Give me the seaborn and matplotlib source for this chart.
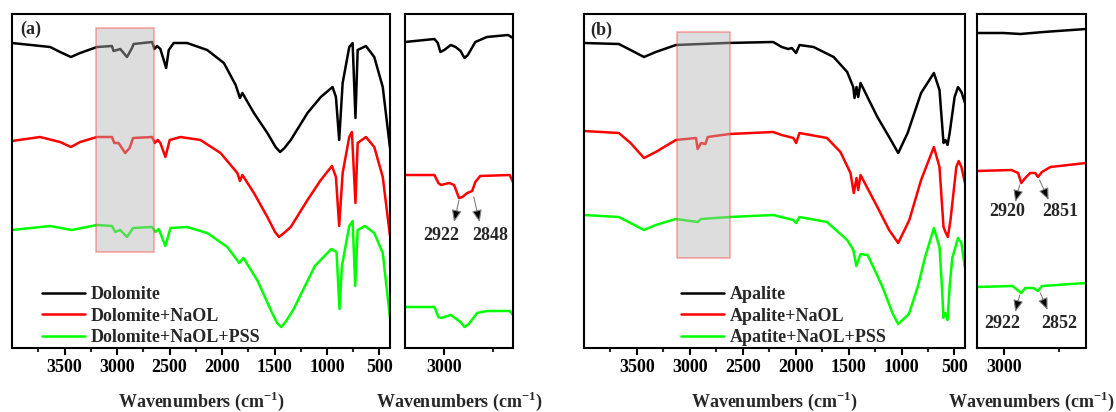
import matplotlib
matplotlib.use("Agg")
import matplotlib.pyplot as plt
import seaborn as sns
from matplotlib.ticker import FixedLocator
from matplotlib.patches import Rectangle

# ---------------- data (wavenumber cm-1, transmittance a.u. with stacking offset) ----------------
dol_wn = [4000, 3637, 3542, 3439, 3351, 3191, 3048, 3033, 3000, 2969, 2905, 2857, 2842, 2666, 2644, 2618,
          2587, 2532, 2507, 2460, 2332, 2141, 1982, 1870, 1829, 1806, 1696, 1568, 1490, 1447, 1405, 1345,
          1186, 1059, 947, 915, 884, 851, 788, 756, 729, 708, 629, 550, 469, 400]
dol_T = [305, 301, 296, 291, 295, 301, 302, 297, 298, 299, 291, 300, 304, 306, 299, 302,
         299, 280, 298, 305, 305, 298, 285, 263, 250, 255, 235, 215, 201, 196, 200, 208,
         235, 251, 261, 251, 208, 265, 301, 305, 230, 298, 302, 291, 261, 200]

dol_naol_wn = [4000, 3733, 3542, 3439, 3351, 3191, 3048, 3026, 2985, 2922, 2880, 2847, 2666, 2641, 2612,
               2587, 2539, 2498, 2396, 2205, 2014, 1854, 1829, 1806, 1696, 1568, 1495, 1457, 1410, 1345,
               1186, 1059, 953, 915, 884, 851, 788, 763, 729, 708, 629, 550, 469, 400]
dol_naol_T = [207, 211, 206, 201, 206, 211, 211, 205, 205, 195, 200, 210, 211, 205, 208,
              205, 191, 208, 211, 208, 195, 175, 167, 173, 155, 131, 116, 111, 115, 121,
              148, 168, 182, 171, 122, 175, 211, 216, 145, 205, 211, 201, 171, 112]

dol_pss_wn = [4000, 3637, 3430, 3191, 3048, 3016, 2969, 2905, 2847, 2666, 2634, 2603, 2539, 2491, 2332,
              2141, 1950, 1864, 1836, 1795, 1660, 1523, 1475, 1437, 1395, 1317, 1116, 959, 909, 881,
              858, 788, 756, 731, 708, 638, 550, 469, 400]
dol_pss_T = [118, 122, 118, 123, 122, 116, 118, 111, 120, 121, 116, 119, 102, 120, 121,
             115, 101, 89, 85, 90, 67, 35, 25, 21, 26, 39, 82, 99, 96, 39,
             82, 122, 127, 62, 118, 122, 115, 95, 30]

# zoomed C-H region, dolomite
dol_zoom_wn = [3200, 3050, 3033, 3020, 3000, 2967, 2942, 2917, 2897, 2880, 2842, 2783, 2675, 2650]
dol_zoom_T = [306, 309, 305, 296, 298, 303, 301, 297, 290, 293, 306, 311, 313, 310]
dol_naol_zoom_wn = [3200, 3050, 3030, 3017, 2975, 2950, 2925, 2908, 2883, 2858, 2842, 2817, 2667, 2650]
dol_naol_zoom_T = [173, 173, 165, 163, 165, 163, 150, 151, 155, 157, 166, 172, 173, 166]
dol_pss_zoom_wn = [3200, 3050, 3030, 3017, 2967, 2917, 2897, 2875, 2833, 2783, 2667, 2650]
dol_pss_zoom_T = [41, 41, 31, 30, 33, 26, 21, 24, 35, 37, 37, 33]

apa_wn = [4000, 3671, 3560, 3433, 3322, 3132, 2656, 2212, 2132, 2069, 2037, 1996, 1964, 1831, 1641,
          1513, 1456, 1444, 1425, 1409, 1387, 1228, 1117, 1031, 942, 815, 694, 641, 603, 585,
          565, 545, 498, 466, 434, 400]
apa_T = [305, 304, 298, 291, 296, 303, 305, 306, 301, 299, 300, 295, 303, 301, 291,
         276, 261, 250, 261, 251, 265, 231, 211, 195, 215, 255, 275, 258, 205, 208,
         203, 215, 251, 261, 256, 245]

apa_naol_wn = [4000, 3671, 3560, 3433, 3322, 3132, 2942, 2926, 2894, 2853, 2831, 2624, 2212, 2132, 2022,
               1996, 1964, 1704, 1577, 1482, 1451, 1425, 1409, 1387, 1228, 1117, 1031, 926, 815, 694,
               641, 603, 585, 562, 537, 482, 460, 434, 400]
apa_naol_T = [217, 215, 205, 190, 196, 208, 210, 199, 205, 204, 211, 214, 216, 213, 210,
              205, 215, 210, 196, 175, 155, 170, 158, 173, 141, 118, 105, 128, 168, 201,
              181, 121, 116, 111, 128, 181, 187, 181, 165]

apa_pss_wn = [4000, 3671, 3560, 3433, 3322, 3132, 2926, 2894, 2624, 2212, 2022, 1996, 1964, 1704, 1513,
              1455, 1427, 1387, 1320, 1183, 1082, 1031, 930, 844, 777, 694, 641, 620, 603, 585,
              565, 545, 520, 466, 434, 400]
apa_pss_T = [133, 131, 125, 118, 123, 129, 126, 129, 131, 133, 128, 125, 131, 126, 108,
             98, 82, 94, 93, 62, 34, 24, 34, 62, 91, 120, 101, 65, 30, 35,
             28, 62, 90, 110, 105, 80]

apa_zoom_wn = [3120, 3000, 2925, 2821, 2630]
apa_zoom_T = [315, 315, 314, 316, 319]
apa_naol_zoom_wn = [3120, 2965, 2935, 2921, 2903, 2881, 2858, 2846, 2828, 2790, 2630]
apa_naol_zoom_T = [177, 178, 175, 165, 170, 175, 175, 171, 176, 181, 185]
apa_pss_zoom_wn = [3120, 2960, 2921, 2903, 2866, 2846, 2828, 2630]
apa_pss_zoom_T = [61, 62, 55, 60, 60, 57, 62, 65]

labels_a = ["Dolomite", "Dolomite+NaOL", "Dolomite+NaOL+PSS"]
labels_b = ["Apalite", "Apalite+NaOL", "Apatite+NaOL+PSS"]
colors = ["#000000", "#ff0000", "#00ff00"]

# ---------------- style ----------------
sns.set_theme(style="ticks")
plt.rcParams["font.family"] = ["Liberation Serif", "DejaVu Serif"]
plt.rcParams["font.weight"] = "bold"
plt.rcParams["mathtext.fontset"] = "custom"
plt.rcParams["mathtext.rm"] = "Liberation Serif:bold"
plt.rcParams["mathtext.bf"] = "Liberation Serif:bold"
plt.rcParams["axes.linewidth"] = 1.5
plt.rcParams["axes.edgecolor"] = "black"

W, H = 1116, 412
fig = plt.figure(figsize=(W / 100, H / 100), dpi=100)
fig.patch.set_facecolor("white")


def frac(l, r):
    return [l / W, 64 / H, (r - l) / W, 334 / H]


axA = fig.add_axes(frac(12, 390))
axAi = fig.add_axes(frac(405, 513))
axB = fig.add_axes(frac(584, 965))
axBi = fig.add_axes(frac(977, 1086))

XLAB = r"Wavenumbers (cm$^{\mathbf{-1}}$)"


def style(ax, xlim, major, minor):
    ax.set_xlim(*xlim)
    ax.set_ylim(0, 334)
    ax.xaxis.set_major_locator(FixedLocator(major))
    ax.xaxis.set_minor_locator(FixedLocator(minor))
    ax.set_xticklabels([str(m) for m in major])
    ax.tick_params(axis="x", which="major", direction="out", length=5, width=1.5,
                   labelsize=13, pad=3, colors="black")
    ax.tick_params(axis="x", which="minor", direction="out", length=3, width=1.5)
    ax.set_yticks([])
    ax.set_ylabel("")
    for s in ax.spines.values():
        s.set_visible(True)
        s.set_linewidth(1.5)
        s.set_color("black")
    ax.set_xlabel(XLAB, fontsize=13, fontweight="bold", labelpad=10)
    ax.set_facecolor("white")


def draw(ax, wn, T, color):
    sns.lineplot(x=wn, y=T, ax=ax, color=color, linewidth=1.8, sort=False,
                 estimator=None, legend=False)


main_major = [3500, 3000, 2500, 2000, 1500, 1000, 500]
main_minor = [3750, 3250, 2750, 2250, 1750, 1250, 750]

# panel (a)
for wn, T, c in zip([dol_wn, dol_naol_wn, dol_pss_wn], [dol_T, dol_naol_T, dol_pss_T], colors):
    draw(axA, wn, T, c)
style(axA, (4000, 400), main_major, main_minor)
axA.add_patch(Rectangle((3200, 96), -550, 224, facecolor="#b4b4b4", edgecolor="#ff4040",
                        alpha=0.45, lw=1.2, zorder=5))
axA.text(0.021, 0.955, "(a)", transform=axA.transAxes, fontsize=13, fontweight="bold",
         ha="left", va="center")
axA.legend(axA.lines[:3], labels_a, loc="lower left", bbox_to_anchor=(0.075, 0.0),
           frameon=False, fontsize=13, handlelength=2.4, handletextpad=0.3,
           labelspacing=0.25, borderpad=0.1, borderaxespad=0)

for wn, T, c in zip([dol_zoom_wn, dol_naol_zoom_wn, dol_pss_zoom_wn],
                    [dol_zoom_T, dol_naol_zoom_T, dol_pss_zoom_T], colors):
    draw(axAi, wn, T, c)
style(axAi, (3200, 2650), [3000], [2750])

# panel (b)
for wn, T, c in zip([apa_wn, apa_naol_wn, apa_pss_wn], [apa_T, apa_naol_T, apa_pss_T], colors):
    draw(axB, wn, T, c)
style(axB, (4000, 400), main_major, main_minor)
axB.add_patch(Rectangle((3125, 90), -500, 226, facecolor="#b4b4b4", edgecolor="#ff4040",
                        alpha=0.45, lw=1.2, zorder=5))
axB.text(0.016, 0.952, "(b)", transform=axB.transAxes, fontsize=13, fontweight="bold",
         ha="left", va="center")
axB.legend(axB.lines[:3], labels_b, loc="lower left", bbox_to_anchor=(0.25, 0.0),
           frameon=False, fontsize=13, handlelength=2.4, handletextpad=0.3,
           labelspacing=0.25, borderpad=0.1, borderaxespad=0)

for wn, T, c in zip([apa_zoom_wn, apa_naol_zoom_wn, apa_pss_zoom_wn],
                    [apa_zoom_T, apa_naol_zoom_T, apa_pss_zoom_T], colors):
    draw(axBi, wn, T, c)
style(axBi, (3120, 2630), [3000], [2750])

# annotations
arrow = dict(arrowstyle="-|>,head_length=0.6,head_width=0.25", ec="#808080", fc="black",
             lw=0.8, shrinkA=0, shrinkB=0)


def mark(ax, text, tail, head, pos):
    ax.annotate("", xy=head, xytext=tail, arrowprops=arrow)
    ax.text(pos[0], pos[1], text, ha="center", va="center", fontsize=13, fontweight="bold")


mark(axAi, "2922", (2925, 148), (2950, 126), (3017, 113))
mark(axAi, "2848", (2850, 151), (2820, 126), (2767, 113))
mark(axBi, "2920", (2928, 163), (2948, 146), (2985, 136))
mark(axBi, "2851", (2839, 168), (2798, 148), (2746, 136))
mark(axBi, "2922", (2928, 53), (2948, 36), (3007, 25))
mark(axBi, "2852", (2835, 55), (2803, 38), (2749, 25))

fig.savefig("out.png", dpi=100, facecolor="white")
